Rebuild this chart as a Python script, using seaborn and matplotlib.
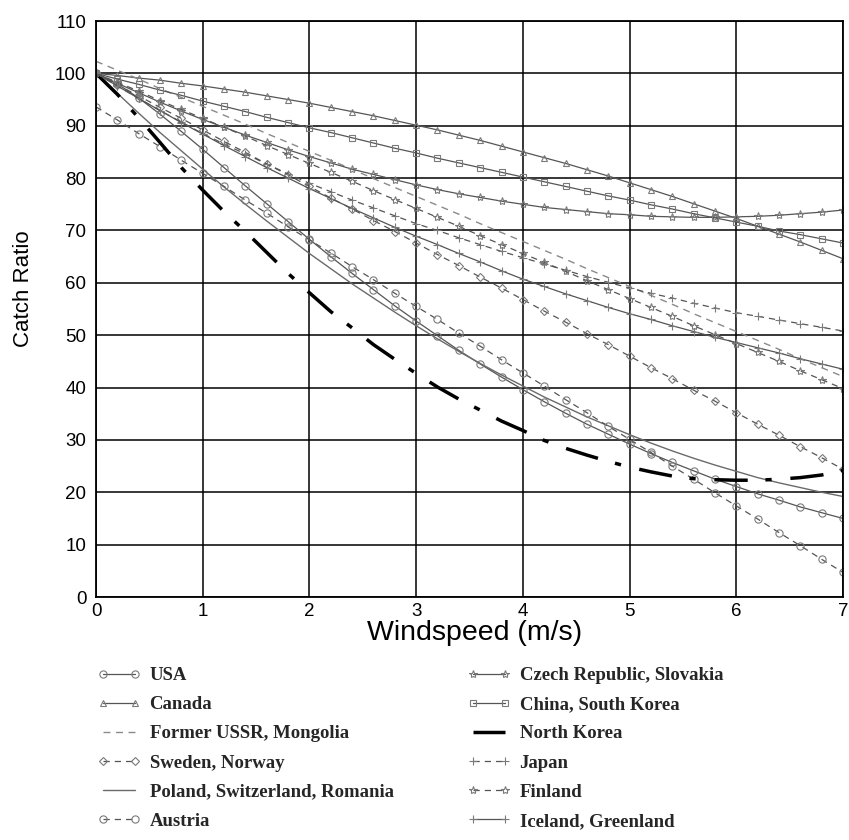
import matplotlib
matplotlib.use("Agg")
import matplotlib.pyplot as plt
import seaborn as sns

# windspeed grid (m/s), one value every 0.2 as in the source chart
windspeed = [0.0, 0.2, 0.4, 0.6, 0.8, 1.0, 1.2, 1.4, 1.6, 1.8, 2.0, 2.2, 2.4, 2.6, 2.8, 3.0, 3.2, 3.4,
             3.6, 3.8, 4.0, 4.2, 4.4, 4.6, 4.8, 5.0, 5.2, 5.4, 5.6, 5.8, 6.0, 6.2, 6.4, 6.6, 6.8, 7.0]

# catch ratio (%)
usa = [100.0, 98.0, 95.3, 92.2, 88.9, 85.5, 82.0, 78.5, 75.1, 71.7, 68.3, 65.0, 61.8, 58.7, 55.6, 52.7, 49.9, 47.1,
       44.5, 42.0, 39.6, 37.3, 35.1, 33.0, 31.1, 29.2, 27.4, 25.7, 24.1, 22.5, 21.1, 19.7, 18.5, 17.2, 16.1, 15.0]
canada = [100.0, 99.6, 99.1, 98.7, 98.1, 97.6, 97.0, 96.4, 95.7, 95.0, 94.3, 93.5, 92.7, 91.9, 91.0, 90.1, 89.2, 88.2,
          87.2, 86.1, 85.0, 83.9, 82.8, 81.6, 80.4, 79.1, 77.8, 76.5, 75.1, 73.7, 72.3, 70.8, 69.3, 67.8, 66.2, 64.6]
ussr = [102.3, 100.6, 98.9, 97.1, 95.4, 93.7, 92.0, 90.3, 88.5, 86.8, 85.1, 83.4, 81.7, 79.9, 78.2, 76.5, 74.8, 73.1,
        71.3, 69.6, 67.9, 66.2, 64.5, 62.7, 61.0, 59.3, 57.6, 55.9, 54.1, 52.4, 50.7, 49.0, 47.3, 45.5, 43.8, 42.1]
sweden = [100.0, 97.8, 95.7, 93.5, 91.4, 89.2, 87.0, 84.9, 82.7, 80.6, 78.4, 76.2, 74.1, 71.9, 69.8, 67.6, 65.4, 63.3,
          61.1, 59.0, 56.8, 54.6, 52.5, 50.3, 48.2, 46.0, 43.8, 41.7, 39.5, 37.4, 35.2, 33.0, 30.9, 28.7, 26.6, 24.4]
poland = [100.0, 96.2, 92.4, 88.7, 85.2, 81.7, 78.3, 75.0, 71.8, 68.7, 65.6, 62.7, 59.8, 57.1, 54.4, 51.8, 49.3, 46.9,
          44.6, 42.4, 40.3, 38.2, 36.3, 34.4, 32.7, 31.0, 29.4, 27.9, 26.5, 25.2, 24.0, 22.8, 21.8, 20.9, 20.0, 19.2]
austria = [93.6, 91.1, 88.5, 86.0, 83.4, 80.9, 78.4, 75.8, 73.3, 70.7, 68.2, 65.7, 63.1, 60.6, 58.0, 55.5, 53.0, 50.4,
           47.9, 45.3, 42.8, 40.3, 37.7, 35.2, 32.6, 30.1, 27.6, 25.0, 22.5, 19.9, 17.4, 14.9, 12.3, 9.8, 7.2, 4.7]
czech = [100.0, 98.1, 96.3, 94.5, 92.8, 91.2, 89.7, 88.2, 86.8, 85.4, 84.1, 82.9, 81.7, 80.7, 79.7, 78.7, 77.8, 77.0,
         76.3, 75.6, 75.0, 74.4, 74.0, 73.6, 73.2, 73.0, 72.7, 72.6, 72.5, 72.5, 72.6, 72.7, 72.9, 73.2, 73.5, 73.9]
china = [100.0, 98.9, 97.9, 96.8, 95.8, 94.7, 93.7, 92.7, 91.6, 90.6, 89.6, 88.7, 87.7, 86.7, 85.7, 84.8, 83.8, 82.9,
         82.0, 81.1, 80.2, 79.3, 78.4, 77.5, 76.6, 75.8, 74.9, 74.1, 73.2, 72.4, 71.6, 70.8, 69.9, 69.2, 68.4, 67.6]
north_korea = [100.0, 96.0, 91.5, 86.8, 82.0, 77.7, 73.6, 69.8, 65.8, 61.8, 58.1, 54.5, 51.4, 48.2, 45.4, 42.7, 40.1, 37.8,
               35.7, 33.6, 31.8, 29.9, 28.4, 27.1, 25.9, 24.8, 23.9, 23.1, 22.6, 22.4, 22.3, 22.3, 22.5, 22.8, 23.3, 24.2]
japan = [100.0, 97.6, 95.2, 92.9, 90.7, 88.5, 86.5, 84.6, 82.7, 80.8, 79.0, 77.4, 75.8, 74.3, 72.8, 71.3, 70.0, 68.6,
         67.3, 66.0, 64.8, 63.6, 62.4, 61.2, 60.1, 59.0, 58.0, 57.1, 56.1, 55.2, 54.3, 53.6, 52.9, 52.2, 51.5, 50.8]
finland = [100.0, 98.3, 96.6, 94.8, 93.1, 91.4, 89.7, 88.0, 86.2, 84.5, 82.8, 81.1, 79.4, 77.6, 75.9, 74.2, 72.5, 70.8,
           69.0, 67.3, 65.6, 63.9, 62.2, 60.4, 58.7, 57.0, 55.3, 53.6, 51.8, 50.1, 48.4, 46.7, 45.0, 43.2, 41.5, 39.8]
iceland = [100.0, 97.6, 95.2, 92.9, 90.6, 88.4, 86.2, 84.1, 82.0, 80.0, 78.0, 76.1, 74.2, 72.4, 70.6, 68.9, 67.3, 65.6,
           64.0, 62.3, 60.7, 59.3, 57.9, 56.6, 55.3, 54.1, 53.0, 51.8, 50.7, 49.6, 48.6, 47.6, 46.6, 45.5, 44.5, 43.5]

line_col = "#555555"
mark_col = "#7a7a7a"
dash = (0, (5, 4))

def style(ls="-", marker=None, ms=5, lw=0.9, color=line_col):
    kw = dict(linestyle=ls, linewidth=lw, color=color)
    if marker:
        kw.update(marker=marker, markersize=ms, markerfacecolor="none",
                  markeredgecolor=mark_col, markeredgewidth=0.8)
    return kw

series = [
    ("USA", usa, style("-", "o", 5.2)),
    ("Canada", canada, style("-", "^", 4.5)),
    ("Former USSR, Mongolia", ussr, style(dash, None, lw=1.0, color="#8a8a8a")),
    ("Sweden, Norway", sweden, style(dash, "D", 3.8)),
    ("Poland, Switzerland, Romania", poland, style("-", None, lw=1.0, color="#6a6a6a")),
    ("Austria", austria, style(dash, "o", 5.2)),
    ("Czech Republic, Slovakia", czech, style("-", "*", 6)),
    ("China, South Korea", china, style("-", "s", 3.8)),
    ("North Korea", north_korea, style((0, (9.6, 5.1, 1.8, 5.4)), None, lw=2.5, color="black")),
    ("Japan", japan, style(dash, "+", 5.5)),
    ("Finland", finland, style(dash, "*", 6)),
    ("Iceland, Greenland", iceland, style("-", "+", 5.5)),
]

sns.set_theme(style="white")
plt.rcParams["font.family"] = ["Liberation Sans", "DejaVu Sans"]

fig = plt.figure(figsize=(8.49, 8.40), dpi=100)
ax = fig.add_axes([96 / 849, 1 - 597 / 840, (843 - 96) / 849, (597 - 21) / 840])

for label, vals, kw in series:
    sns.lineplot(x=windspeed, y=vals, ax=ax, label=label, legend=False, errorbar=None, **kw)

ax.set_xlim(0, 7)
ax.set_ylim(0, 110)
ax.set_xticks(range(0, 8))
ax.set_yticks(range(0, 111, 10))
ax.grid(True, color="black", linewidth=1.1)
ax.set_axisbelow(True)
for s in ax.spines.values():
    s.set_color("black")
    s.set_linewidth(1.3)
ax.tick_params(length=0, labelsize=13.5, colors="black")
ax.tick_params(axis="y", pad=7)
ax.tick_params(axis="x", pad=4)
ax.set_xlabel("Windspeed (m/s)", fontsize=20.5, color="black")
ax.set_ylabel("Catch Ratio", fontsize=16, color="black")
ax.xaxis.set_label_coords(0.507, -0.0625)
ax.yaxis.set_label_coords(-0.097, 0.535)
ax.xaxis.label.set_va("center")
ax.yaxis.label.set_va("center")

handles, labels = ax.get_legend_handles_labels()
leg_font = {"family": "Liberation Serif", "weight": "bold", "size": 13.5}
leg_kw = dict(loc="upper left", frameon=False, prop=leg_font, numpoints=2, handlelength=2.3,
              handletextpad=0.5, labelspacing=0.64, borderpad=0, borderaxespad=0)
fig.legend(handles[:6], labels[:6], bbox_to_anchor=(97 / 849, 1 - 667 / 840), **leg_kw)
fig.legend(handles[6:], labels[6:], bbox_to_anchor=(467 / 849, 1 - 667 / 840), **leg_kw)

fig.savefig("out.png", dpi=100)
